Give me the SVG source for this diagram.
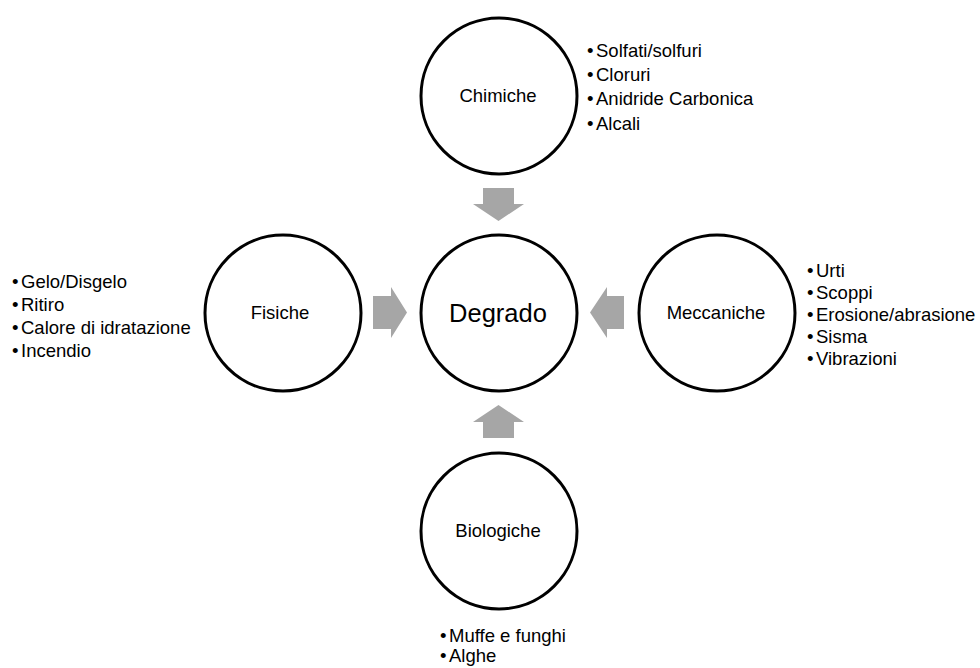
<svg xmlns="http://www.w3.org/2000/svg" width="980" height="668" viewBox="0 0 980 668">
<style>
.node circle{fill:#fff;stroke:#000;stroke-width:3}
.lbl{font-family:"Liberation Sans",Arial,sans-serif;font-size:18.5px;fill:#000;text-anchor:middle}
.big{font-size:25.5px}
.list{font-family:"Liberation Sans",Arial,sans-serif;font-size:18.5px;fill:#000}
.arrow{fill:#a6a6a6}
</style>
<rect width="980" height="668" fill="#fff"/>
<g id="connectors">
<polygon class="arrow" points="483,188 514,188 514,204 524,204 498.5,221 473,204 483,204"/>
<polygon class="arrow" points="483,438 514,438 514,422 524,422 498.5,405 473,422 483,422"/>
<polygon class="arrow" points="373,296 391,296 391,287 407,312.5 391,338 391,329 373,329"/>
<polygon class="arrow" points="624,296 607,296 607,287 590,312.5 607,338 607,329 624,329"/>
</g>
<g id="degrado" class="node">
<circle cx="499" cy="313" r="78"/>
<text class="lbl big" x="498" y="322">Degrado</text>
</g>
<g id="chimiche" class="node">
<circle cx="499" cy="96" r="78"/>
<text class="lbl" x="498" y="102">Chimiche</text>
<text class="list"><tspan x="587" y="57">•</tspan><tspan x="596" y="57">Solfati/solfuri</tspan><tspan x="587" y="81">•</tspan><tspan x="596" y="81">Cloruri</tspan><tspan x="587" y="105">•</tspan><tspan x="596" y="105">Anidride Carbonica</tspan><tspan x="587" y="130">•</tspan><tspan x="596" y="130">Alcali</tspan></text>
</g>
<g id="fisiche" class="node">
<circle cx="283" cy="313" r="78"/>
<text class="lbl" x="280" y="319">Fisiche</text>
<text class="list"><tspan x="12" y="288">•</tspan><tspan x="21" y="288">Gelo/Disgelo</tspan><tspan x="12" y="311">•</tspan><tspan x="21" y="311">Ritiro</tspan><tspan x="12" y="334">•</tspan><tspan x="21" y="334">Calore di idratazione</tspan><tspan x="12" y="357">•</tspan><tspan x="21" y="357">Incendio</tspan></text>
</g>
<g id="meccaniche" class="node">
<circle cx="717" cy="313" r="78"/>
<text class="lbl" x="716" y="319">Meccaniche</text>
<text class="list"><tspan x="807" y="277">•</tspan><tspan x="816" y="277">Urti</tspan><tspan x="807" y="299">•</tspan><tspan x="816" y="299">Scoppi</tspan><tspan x="807" y="321">•</tspan><tspan x="816" y="321">Erosione/abrasione</tspan><tspan x="807" y="343">•</tspan><tspan x="816" y="343">Sisma</tspan><tspan x="807" y="365">•</tspan><tspan x="816" y="365">Vibrazioni</tspan></text>
</g>
<g id="biologiche" class="node">
<circle cx="499" cy="531" r="78"/>
<text class="lbl" x="498" y="537">Biologiche</text>
<text class="list"><tspan x="440" y="642">•</tspan><tspan x="449" y="642">Muffe e funghi</tspan><tspan x="440" y="662">•</tspan><tspan x="449" y="662">Alghe</tspan></text>
</g>
</svg>
